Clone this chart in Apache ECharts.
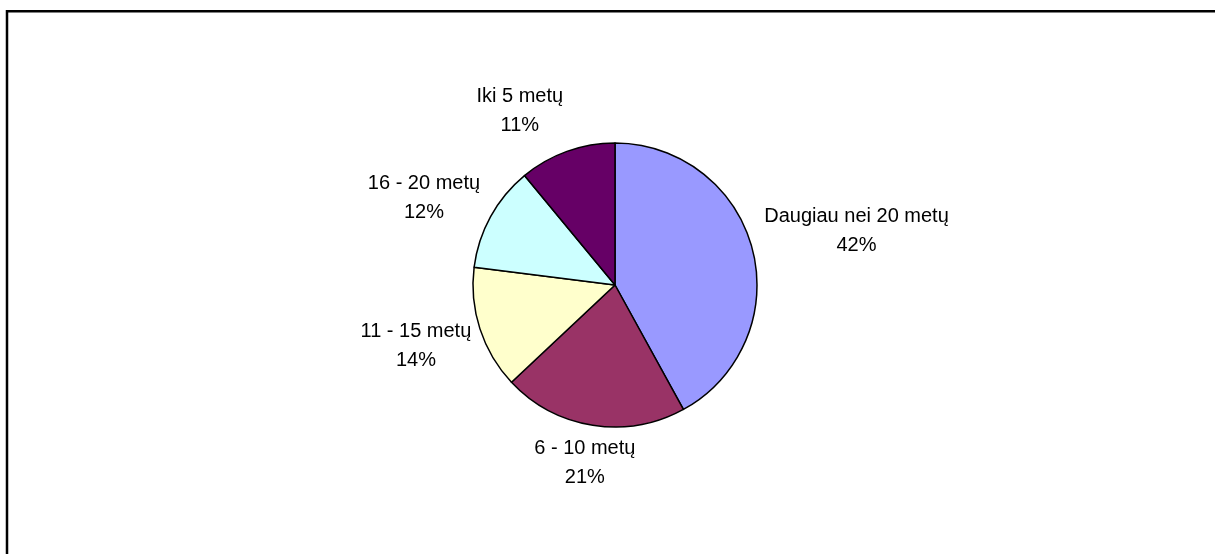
<!DOCTYPE html>
<html>
<head>
<meta charset="utf-8">
<title>Stažas</title>
<script src="https://cdn.jsdelivr.net/npm/echarts@6/dist/echarts.min.js"></script>
<style>
  html, body { margin: 0; padding: 0; background: #ffffff; }
  #chart { width: 1215px; height: 554px; }
</style>
</head>
<body>
<div id="chart"></div>
<script>
// Slice categories and shares (percent), clockwise from 12 o'clock
const categories = ['Daugiau nei 20 metų', '6 - 10 metų', '11 - 15 metų', '16 - 20 metų', 'Iki 5 metų'];
const shares = [42, 21, 14, 12, 11];
const sliceColors = ['#9999FF', '#993366', '#FFFFCC', '#CCFFFF', '#660066'];

// Pie geometry
const pieCenter = [615, 285];
const pieRadius = 142;
const labelGap = 13;
// Fine adjustment of each label block, in pixels
const labelNudge = [[2, -8], [2, -4], [1, 4], [-6, 2], [-28, -1]];

const total = shares.reduce((a, b) => a + b, 0);
const midAngles = [];
let acc = 0;
shares.forEach(v => {
  midAngles.push(((acc + v / 2) / total) * Math.PI * 2);
  acc += v;
});

const chart = echarts.init(document.getElementById('chart'), null, { renderer: 'canvas' });

chart.setOption({
  backgroundColor: '#ffffff',
  animation: false,
  graphic: [{
    type: 'rect',
    shape: { x: 7, y: 11.3, width: 1400, height: 800 },
    style: { fill: 'none', stroke: '#000000', lineWidth: 2.5 },
    silent: true,
    z: 0
  }],
  series: [{
    type: 'pie',
    center: pieCenter,
    radius: pieRadius,
    startAngle: 90,
    clockwise: true,
    percentPrecision: 0,
    data: categories.map((name, i) => ({
      name: name,
      value: shares[i],
      itemStyle: { color: sliceColors[i] }
    })),
    itemStyle: { borderColor: '#000000', borderWidth: 1.5 },
    emphasis: { disabled: true },
    label: {
      show: true,
      position: 'outside',
      formatter: '{b}\n{d}%',
      color: '#000000',
      fontFamily: '"Liberation Sans", Arial, sans-serif',
      fontSize: 20,
      lineHeight: 29,
      align: 'center'
    },
    labelLine: { show: false },
    labelLayout: function (params) {
      const i = params.dataIndex;
      const a = midAngles[i];
      const dx = Math.sin(a), dy = -Math.cos(a);
      const w = params.labelRect.width, h = params.labelRect.height;
      const r = pieRadius + labelGap;
      return {
        x: pieCenter[0] + r * dx + dx * w / 2 + labelNudge[i][0],
        y: pieCenter[1] + r * dy + dy * h / 2 + labelNudge[i][1],
        align: 'center',
        verticalAlign: 'middle'
      };
    }
  }]
});
</script>
</body>
</html>
